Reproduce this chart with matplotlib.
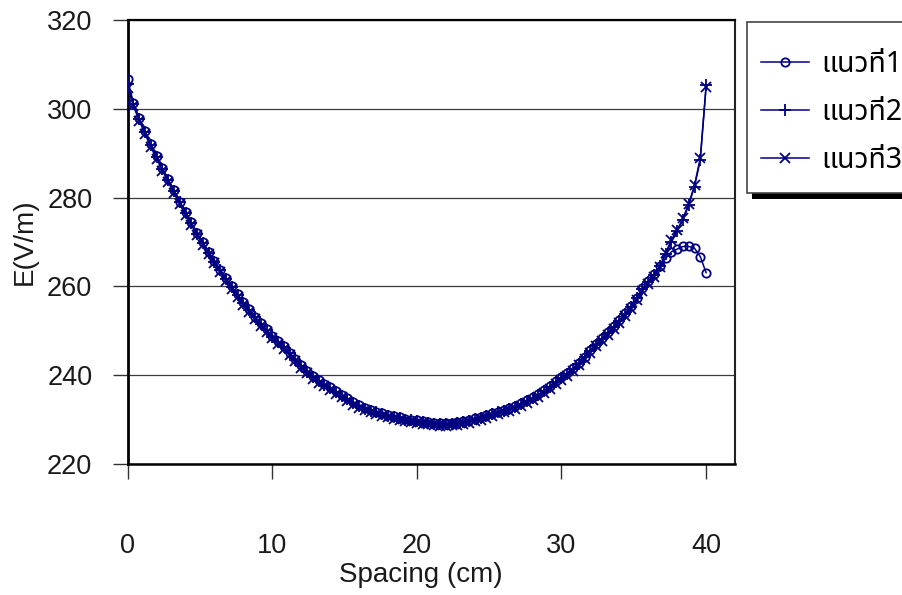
import numpy as np
import matplotlib
matplotlib.use("Agg")
import matplotlib.pyplot as plt
from matplotlib import font_manager
from matplotlib.ft2font import FT2Font
from matplotlib.patches import Rectangle

# Measurement positions along the line (cm)
spacing = np.round(np.arange(101) * 0.4, 1)

# Electric field strength for each survey line (V/m)
line1 = [306.6, 301.2, 297.9, 294.9, 292.0, 289.3, 286.7, 284.1, 281.6, 279.1,
         276.7, 274.4, 272.1, 269.9, 267.8, 265.8, 263.8, 261.9, 260.0, 258.2,
         256.5, 254.8, 253.2, 251.7, 250.3, 248.9, 247.7, 246.5, 245.1, 243.7,
         242.3, 241.0, 239.8, 238.9, 238.1, 237.3, 236.4, 235.6, 234.8, 234.0,
         233.3, 232.7, 232.2, 231.8, 231.5, 231.1, 230.8, 230.5, 230.2, 230.0,
         229.8, 229.6, 229.5, 229.3, 229.2, 229.2, 229.3, 229.4, 229.6, 229.9,
         230.3, 230.6, 231.0, 231.4, 231.8, 232.2, 232.6, 233.1, 233.7, 234.4,
         235.0, 235.7, 236.6, 237.6, 238.6, 239.6, 240.5, 241.6, 242.8, 244.2,
         245.7, 247.1, 248.4, 249.7, 251.0, 252.4, 253.9, 255.6, 257.5, 259.6,
         261.2, 262.8, 264.6, 266.3, 267.8, 268.4, 269.0, 269.0, 268.6, 266.7,
         263.1]
line2 = [305.6, 301.0, 297.7, 294.7, 291.8, 289.1, 286.5, 283.9, 281.4, 278.9,
         276.5, 274.2, 271.9, 269.7, 267.6, 265.6, 263.6, 261.7, 259.8, 258.0,
         256.3, 254.6, 253.0, 251.5, 250.1, 248.7, 247.5, 246.3, 244.9, 243.5,
         242.1, 240.8, 239.6, 238.7, 237.9, 237.1, 236.2, 235.4, 234.6, 233.8,
         233.1, 232.5, 232.0, 231.6, 231.3, 230.9, 230.6, 230.3, 230.0, 229.8,
         229.6, 229.4, 229.3, 229.1, 229.0, 229.0, 229.1, 229.2, 229.4, 229.7,
         230.1, 230.4, 230.8, 231.2, 231.6, 232.0, 232.4, 232.9, 233.5, 234.2,
         234.8, 235.5, 236.4, 237.4, 238.4, 239.4, 240.3, 241.4, 242.6, 244.0,
         245.5, 246.9, 248.2, 249.5, 250.8, 252.2, 253.7, 255.4, 257.3, 259.4,
         261.0, 262.6, 264.5, 267.2, 270.0, 272.4, 275.0, 278.3, 282.5, 288.4,
         305.3]
line3 = [304.6, 300.6, 297.3, 294.3, 291.4, 288.7, 286.1, 283.5, 281.0, 278.5,
         276.1, 273.8, 271.5, 269.3, 267.2, 265.2, 263.2, 261.3, 259.4, 257.6,
         255.9, 254.2, 252.6, 251.1, 249.7, 248.3, 247.1, 245.9, 244.5, 243.1,
         241.7, 240.4, 239.2, 238.3, 237.5, 236.7, 235.8, 235.0, 234.2, 233.4,
         232.7, 232.1, 231.6, 231.2, 230.9, 230.5, 230.2, 229.9, 229.6, 229.4,
         229.2, 229.0, 228.9, 228.7, 228.6, 228.6, 228.7, 228.8, 229.0, 229.3,
         229.7, 230.0, 230.4, 230.8, 231.2, 231.6, 232.0, 232.5, 233.1, 233.8,
         234.4, 235.1, 236.0, 237.0, 238.0, 239.0, 239.9, 241.0, 242.2, 243.6,
         245.1, 246.5, 247.8, 249.1, 250.4, 251.8, 253.3, 255.0, 256.9, 259.0,
         260.6, 262.2, 264.3, 267.5, 270.5, 272.7, 275.3, 278.6, 282.8, 289.0,
         304.8]

series_names = ["แนวที่1", "แนวที่2", "แนวที่3"]
x_ticks = [0, 10, 20, 30, 40]
y_ticks = [220, 240, 260, 280, 300, 320]


def find_thai_family():
    """Return the name of an installed font that covers Thai script."""
    names = []
    for entry in font_manager.fontManager.ttflist:
        try:
            cmap = FT2Font(entry.fname).get_charmap()
        except Exception:
            continue
        if 0x0E41 in cmap and 0x0E17 in cmap and 0x0E48 in cmap:
            names.append(entry.name)
    for pref in ("Noto Sans Thai", "Loma", "Garuda", "Kinnari", "Norasi"):
        if pref in names:
            return pref
    return names[0] if names else None


thai = find_thai_family()
base_font = "Liberation Sans"
plt.rcParams["font.family"] = [base_font, "DejaVu Sans"]
legend_family = ([thai] if thai else []) + [base_font, "DejaVu Sans"]

NAVY = "#000080"
FS = 19.5
FS_LEG = 20.5

fig = plt.figure(figsize=(9.02, 5.95), dpi=100)
fig.patch.set_facecolor("white")
W, H = 902.0, 595.0
left, right, top, bottom = 127.7, 735.0, 20.0, 464.0
ax = fig.add_axes([left / W, 1 - bottom / H, (right - left) / W, (bottom - top) / H])

ax.plot(spacing, line1, color=NAVY, lw=1.1, marker="o", ms=6.0,
        mfc="none", mec=NAVY, mew=1.3, label=series_names[0], zorder=3)
ax.plot(spacing, line2, color=NAVY, lw=1.1, marker="+", ms=8.0,
        mec=NAVY, mew=1.3, label=series_names[1], zorder=4)
ax.plot(spacing, line3, color=NAVY, lw=1.1, marker="x", ms=6.8,
        mec=NAVY, mew=1.3, label=series_names[2], zorder=5)

ax.set_xlim(0, 42)
ax.set_ylim(220, 320)
ax.set_xticks(x_ticks)
ax.set_yticks(y_ticks)
ax.yaxis.grid(True, color="#3c3c3c", lw=0.9)
ax.set_axisbelow(True)

for side, lw, col in (("left", 2.0, "black"), ("bottom", 1.8, "black"),
                      ("top", 1.6, "black"), ("right", 1.5, "#222222")):
    ax.spines[side].set_linewidth(lw)
    ax.spines[side].set_color(col)

ax.tick_params(axis="y", direction="out", length=10.5, width=1.0,
               color="#333333", pad=15, labelsize=FS, labelcolor="#1a1a1a")
ax.tick_params(axis="x", direction="out", length=10.5, width=1.0,
               color="#333333", pad=39, labelsize=FS, labelcolor="#1a1a1a")

ax.set_ylabel("E(V/m)", fontsize=FS + 0.5, va="center", color="#1a1a1a")
ax.yaxis.set_label_coords((25 - left) / (right - left), 0.5)
ax.set_xlabel("Spacing (cm)", fontsize=FS + 0.5, va="center", color="#1a1a1a")
ax.xaxis.set_label_coords((421 - left) / (right - left), (bottom - 575) / (bottom - top))

# Legend box with a solid drop shadow, running off the right edge
bx0, bx1, by0, by1 = 747.0, 910.0, 22.0, 193.0
shadow = Rectangle((752 / W, 1 - 199 / H), (bx1 + 5 - 752) / W, (199 - 28) / H,
                   transform=fig.transFigure, facecolor="black",
                   edgecolor="none", zorder=1)
box = Rectangle((bx0 / W, 1 - by1 / H), (bx1 - bx0) / W, (by1 - by0) / H,
                transform=fig.transFigure, facecolor="white",
                edgecolor="#444444", lw=1.2, zorder=2)
fig.patches.extend([shadow, box])

leg = fig.legend(loc="upper left", bbox_to_anchor=(761 / W, 1 - 50 / H),
                 frameon=False, prop={"family": legend_family, "size": FS_LEG},
                 handlelength=1.7, handletextpad=0.42, labelspacing=0.66,
                 borderpad=0.0, borderaxespad=0.0)
leg.set_zorder(3)

fig.savefig("out.png", dpi=100, facecolor="white")
